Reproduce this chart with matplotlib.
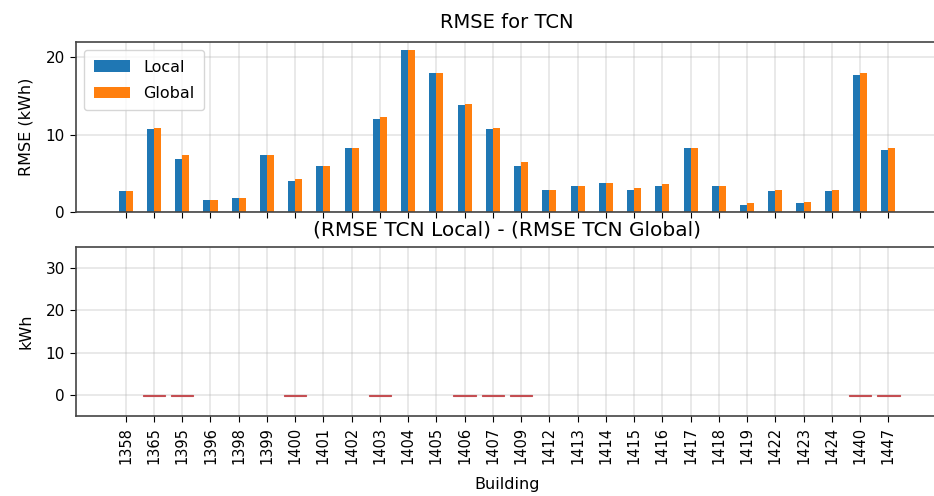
import matplotlib
matplotlib.use("Agg")
import matplotlib.pyplot as plt
import numpy as np

buildings = ["1358", "1365", "1395", "1396", "1398", "1399", "1400", "1401", "1402",
             "1403", "1404", "1405", "1406", "1407", "1409", "1412", "1413", "1414",
             "1415", "1416", "1417", "1418", "1419", "1422", "1423", "1424", "1440",
             "1447"]
rmse_local = [2.7, 10.7, 6.9, 1.6, 1.8, 7.35, 4.0, 6.0, 8.2,
              12.0, 20.9, 18.0, 13.75, 10.7, 6.0, 2.9, 3.35, 3.8,
              2.9, 3.35, 8.2, 3.35, 0.9, 2.65, 1.1, 2.65, 17.7,
              8.0]
rmse_global = [2.7, 10.9, 7.35, 1.6, 1.8, 7.35, 4.25, 6.0, 8.2,
               12.25, 20.9, 18.0, 13.95, 10.9, 6.45, 2.9, 3.35, 3.8,
               3.1, 3.55, 8.2, 3.35, 1.1, 2.9, 1.35, 2.9, 17.95,
               8.2]
# difference as shown in the lower panel (only these bars are visible there)
rmse_diff = [0.0, -0.25, -0.25, 0.0, 0.0, 0.0, -0.25, 0.0, 0.0,
             -0.25, 0.0, 0.0, -0.25, -0.25, -0.25, 0.0, 0.0, 0.0,
             0.0, 0.0, 0.0, 0.0, 0.0, 0.0, 0.0, 0.0, -0.25,
             -0.25]

plt.rcParams.update({
    "font.size": 11.5,
    "xtick.labelsize": 10.5,
    "ytick.labelsize": 11,
    "legend.fontsize": 11.5,
    "xtick.major.size": 4.5,
    "ytick.major.size": 4.5,
    "axes.linewidth": 1.2,
})

DPI = 100
fig = plt.figure(figsize=(934 / DPI, 496 / DPI), dpi=DPI)
ax1 = fig.add_axes([76 / 934, 1 - 212 / 496, 862 / 934, 170 / 496])
ax2 = fig.add_axes([76 / 934, 1 - 416 / 496, 862 / 934, 169 / 496], sharex=ax1)

x = np.arange(len(buildings))
w = 0.25

ax1.bar(x, rmse_local, width=-w, align="edge", color="#1f77b4", label="Local")
ax1.bar(x, rmse_global, width=w, align="edge", color="#ff7f0e", label="Global")
ax1.set_title("RMSE for TCN", fontsize=14, pad=10)
ax1.set_ylabel("RMSE (kWh)", labelpad=9)
ax1.set_yticks([0, 10, 20])
ax1.legend(loc="upper left", borderpad=0.6, labelspacing=0.7, handlelength=2.3)
ax1.grid(True, color="#b0b0b0", alpha=0.3, linewidth=1.3)
ax1.set_axisbelow(True)
ax1.tick_params(labelbottom=False)

edge = ["#c44e52" if d != 0 else "none" for d in rmse_diff]
ax2.bar(x, rmse_diff, width=0.8, color="#c44e52", edgecolor=edge, linewidth=0.8)
ax2.set_title("(RMSE TCN Local) - (RMSE TCN Global)", fontsize=14.5, pad=8)
ax2.set_ylabel("kWh", labelpad=9)
ax2.set_xlabel("Building", labelpad=9)
ax2.set_ylim(-5, 35)
ax2.set_yticks([0, 10, 20, 30])
ax2.grid(True, color="#b0b0b0", alpha=0.3, linewidth=1.3)
ax2.set_axisbelow(True)
ax2.set_xticks(x)
ax2.set_xticklabels(buildings, rotation=90)
ax2.set_xlim(-1.76, 28.76)

for ax in (ax1, ax2):
    for s in ax.spines.values():
        s.set_color("#444444")

fig.savefig("out.png", dpi=DPI)
